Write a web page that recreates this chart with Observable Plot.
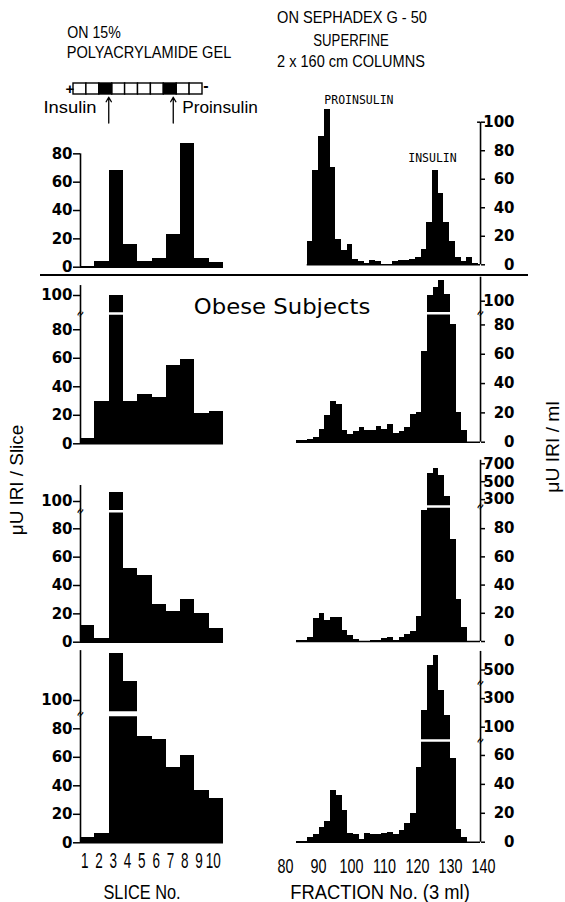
<!DOCTYPE html>
<html><head><meta charset="utf-8">
<script src="https://cdn.jsdelivr.net/npm/d3@7"></script>
<script src="https://cdn.jsdelivr.net/npm/@observablehq/plot@0.6"></script>
<style>
body{margin:0;background:#fff;}
#root{position:relative;width:565px;height:902px;overflow:hidden;background:#fff;}
.t{position:absolute;white-space:nowrap;color:#000;line-height:1;}
</style></head><body><div id="root"></div>
<script>
// ---------------- DATA ----------------
const sliceLabels = [1, 2, 3, 4, 5, 6, 7, 8, 9, 10];
const gelBands = [3, 8];
const gelMarkerNames = ["Insulin", "Proinsulin"];
const gelMarkerSlices = [3, 8];

// μU IRI / slice (polyacrylamide gel), rows top to bottom
const leftRow1 = [0.5, 4, 68, 16, 4, 6, 23, 87.5, 6, 3];
const leftRow2 = [3.5, 30, 100, 30, 34.5, 32.5, 55, 59, 21, 23];
const leftRow3 = [12, 2.5, 108, 52, 47, 26.5, 22, 30, 20, 10];
const leftRow4 = [4, 6.5, 133, 113, 74.5, 72.5, 52.5, 61, 36.5, 31];

// μU IRI / ml (Sephadex G-50 fractions), rows top to bottom
const rightRow1 = [16, 66, 90, 109, 68, 18, 10, 14, 4, 2, 1, 3, 2, 0.5, 0.5, 2, 3, 3, 4, 5, 11, 30, 66, 50, 30, 16, 5, 2, 5, 1];
const rightRow2 = [1, 1, 2, 3, 9, 18, 28, 26, 8, 5, 7, 10, 8, 8, 11, 9, 12, 6, 7, 10, 19, 20, 62, 106, 114, 121, 107, 80, 20, 8];
const rightRow3 = [0.5, 0.5, 2.5, 16, 20, 15, 17, 17, 8, 4, 1.5, 0.3, 0, 0.5, 1, 2, 3, 1, 3, 5, 7, 18, 93, 590, 645, 570, 336, 72, 30, 10];
const rightRow4 = [0.3, 0.5, 3, 5, 10, 14, 36, 32, 22, 6, 5, 2, 6, 5, 5, 6, 7, 5, 8, 13, 20, 52, 217, 530, 600, 357, 182, 58, 9, 3];
const rightStart = [86.58, 83.33, 83.33, 83.33]; // first fraction of each series
const binWidth = 1.727;                           // fractions per bar
const peakLabels = ["PROINSULIN", "INSULIN"];
const peakLabelBins = [3, 22];

const fractionTicks = [80, 90, 100, 110, 120, 130, 140];
const leftTicks = [[0, 20, 40, 60, 80], [0, 20, 40, 60, 80, 100], [0, 20, 40, 60, 80, 100], [0, 20, 40, 60, 80, 100]];
const rightTicks = [[0, 20, 40, 60, 80, 100], [0, 20, 40, 60, 80, 100], [0, 20, 40, 60, 80, 300, 500, 700], [0, 20, 40, 60, 100, 300, 500]];

// ---------------- LAYOUT ----------------
const W = 565, H = 902;
const root = document.getElementById("root");
const SANS = "'Liberation Sans', Arial, sans-serif";
const TICK = {fontFamily: "'DejaVu Sans', sans-serif", fontWeight: "bold", fontSize: 15};

const leftLayout = [
  {yDomain: [0, 100], yRange: [266.7, 125], axisTop: 80, brk: null},
  {yDomain: [0, 90, 100, 110], yRange: [443.3, 315, 295, 280.8], axisTop: 107, brk: 91, gap: 2.5},
  {yDomain: [0, 92, 100, 115], yRange: [641.7, 511.3, 501, 485], axisTop: 115, brk: 92.5, gap: 2.5},
  {yDomain: [0, 92, 100, 140], yRange: [842.3, 711.2, 700, 643], axisTop: 135, brk: 90.5, gap: 5}
];
const leftX = [80, 223];
const rightLayout = [
  {yDomain: [0, 100], yRange: [264.3, 121.7], axisTop: 100, brk: null, marks: []},
  {yDomain: [0, 88, 100, 124], yRange: [441.7, 312.7, 300.7, 276.7], axisTop: 124, brk: 88, gap: 2.5, marks: [88]},
  {yDomain: [0, 95, 240, 700, 760], yRange: [641, 507, 504.5, 463.3, 458], axisTop: 740, brk: 160, gap: 2.5, marks: [160]},
  {yDomain: [0, 70, 100, 600, 640], yRange: [841.7, 740.5, 726.7, 655.2, 649.5], axisTop: 630, brk: 71, gap: 2.5, marks: [71, 410]}
];
const rightX = [285, 483];
const AXIS_F = 139.1;

function mount(svg) {
  Object.assign(svg.style, {position: "absolute", left: "0px", top: "0px", background: "transparent", overflow: "visible", maxWidth: "none"});
  root.appendChild(svg);
  return svg;
}
// horizontally condense x tick labels (condensed typeface of the original)
function condense(svg, k) {
  svg.querySelectorAll('g[aria-label="x-axis tick label"] text').forEach(t => {
    const x = parseFloat(t.getAttribute("x") || "0");
    const tr = t.getAttribute("transform") || "";
    t.setAttribute("transform", (tr + ` scale(${k},1)`).trim());
    if (x) t.setAttribute("x", x / k);
  });
}

function leftPanel(values, lay, ticks, isBottom) {
  const data = sliceLabels.map((s, i) => ({s, v: values[i]}));
  const marks = [
    Plot.rectY(data, {x1: d => d.s - 1, x2: d => d.s, y: "v", fill: "black", shapeRendering: "crispEdges"}),
    Plot.ruleY([0], {x1: 0, x2: 10, stroke: "black", strokeWidth: 1.5})
  ];
  if (lay.brk != null) marks.push(Plot.ruleY([lay.brk], {x1: 0, x2: 10, stroke: "white", strokeWidth: lay.gap}));
  marks.push(Plot.ruleX([0], {y1: 0, y2: lay.axisTop, stroke: "black", strokeWidth: 1.6}));
  if (lay.brk != null) marks.push(Plot.text([lay.brk], {x: 0, y: d => d, text: () => "≈", rotate: -60, fontSize: 11, fontWeight: "bold"}));
  marks.push(Plot.axisY(ticks, {anchor: "left", label: null, tickSize: 7, tickPadding: 1, strokeWidth: 1.5, tickFormat: d => String(d), ...TICK}));
  if (isBottom) marks.push(Plot.axisX(sliceLabels.map(s => s - 0.5), {anchor: "bottom", label: null, tickSize: 0, tickPadding: 9, dx: -3, tickFormat: d => String(d + 0.5), fontFamily: SANS, fontSize: 22.5}));
  return Plot.plot({
    width: W, height: H,
    marginLeft: leftX[0], marginRight: W - leftX[1],
    marginTop: lay.yRange[lay.yRange.length - 1], marginBottom: H - lay.yRange[0],
    x: {type: "linear", domain: [0, 10], range: leftX, axis: null},
    y: {type: "linear", domain: lay.yDomain, range: lay.yRange, axis: null},
    marks
  });
}

function rightPanel(values, start, lay, ticks, isBottom, withLabels) {
  const data = values.map((v, i) => ({x1: start + i * binWidth, x2: start + (i + 1) * binWidth, v}));
  const marks = [
    Plot.rectY(data, {x1: "x1", x2: "x2", y: "v", fill: "black", shapeRendering: "crispEdges"}),
    Plot.ruleY([0], {x1: start, x2: AXIS_F, stroke: "black", strokeWidth: 1.5})
  ];
  if (lay.brk != null) marks.push(Plot.ruleY([lay.brk], {x1: start, x2: AXIS_F, stroke: "white", strokeWidth: lay.gap}));
  marks.push(Plot.ruleX([AXIS_F], {y1: 0, y2: lay.axisTop, stroke: "black", strokeWidth: 1.6}));
  if (lay.brk == null) marks.push(Plot.ruleY([lay.axisTop], {x1: AXIS_F - 0.9, x2: AXIS_F, stroke: "black", strokeWidth: 1.5}));
  marks.push(Plot.text(lay.marks, {x: AXIS_F, y: d => d, text: () => "≈", rotate: -60, fontSize: 11, fontWeight: "bold"}));
  marks.push(Plot.axisY(ticks, {anchor: "right", label: null, tickSize: 4, tickPadding: 30, textAnchor: "end", strokeWidth: 1.5, tickFormat: d => String(d), ...TICK}));
  if (withLabels) {
    marks.push(Plot.text([peakLabelBins[0]], {x: b => start + b * binWidth, y: b => values[b], text: () => peakLabels[0], textAnchor: "start", dy: -9, fontFamily: "'DejaVu Sans Mono', monospace", fontSize: 11.5}));
    marks.push(Plot.text([peakLabelBins[1]], {x: b => start + (b + 0.5) * binWidth, y: b => values[b], text: () => peakLabels[1], textAnchor: "middle", dx: -3, dy: -12, fontFamily: "'DejaVu Sans Mono', monospace", fontSize: 11.5}));
  }
  if (isBottom) marks.push(Plot.axisX(fractionTicks, {anchor: "bottom", label: null, tickSize: 0, tickPadding: 16, tickFormat: d => String(d), fontFamily: SANS, fontSize: 20.5}));
  const xs = d3.scaleLinear().domain([80, 140]).range(rightX);
  return Plot.plot({
    width: W, height: H,
    marginLeft: xs(start), marginRight: W - xs(AXIS_F),
    marginTop: lay.yRange[lay.yRange.length - 1], marginBottom: H - lay.yRange[0],
    x: {type: "linear", domain: [80, 140], range: rightX, axis: null},
    y: {type: "linear", domain: lay.yDomain, range: lay.yRange, axis: null},
    marks
  });
}

// gel diagram
const gel = Plot.plot({
  width: W, height: H, marginLeft: 73, marginRight: W - 202, marginTop: 83, marginBottom: H - 94,
  x: {domain: [0, 10], axis: null}, y: {domain: [0, 1], axis: null},
  marks: [
    Plot.rect(sliceLabels.filter(s => !gelBands.includes(s)), {x1: s => s - 1, x2: s => s, y1: 0, y2: 1, fill: "white", stroke: "black", strokeWidth: 1.4}),
    Plot.rect(gelBands, {x1: s => s - 1, x2: s => s, y1: 0, y2: 1, fill: "black", stroke: "black", strokeWidth: 1.4}),
    Plot.text(["+"], {frameAnchor: "left", dx: -8, fontSize: 15, fontWeight: "bold", fontFamily: SANS}),
    Plot.text(["-"], {frameAnchor: "right", dx: 6, dy: -3, fontSize: 16, fontWeight: "bold", fontFamily: SANS}),
    Plot.arrow(gelMarkerSlices, {x1: s => s - 0.5, x2: s => s - 0.5, y1: -2.6, y2: -0.25, dx: 3, stroke: "black", strokeWidth: 1.3, headLength: 6})
  ]
});
mount(gel);

const lefts = [leftRow1, leftRow2, leftRow3, leftRow4];
const rights = [rightRow1, rightRow2, rightRow3, rightRow4];
lefts.forEach((v, i) => { const s = mount(leftPanel(v, leftLayout[i], leftTicks[i], i === 3)); if (i === 3) condense(s, 0.6); });
rights.forEach((v, i) => { const s = mount(rightPanel(v, rightStart[i], rightLayout[i], rightTicks[i], i === 3, i === 0)); if (i === 3) condense(s, 0.7); });

// ---------------- TEXT ----------------
function txt(str, o) {
  const el = document.createElement("div");
  el.className = "t";
  el.textContent = str;
  el.style.fontFamily = o.font || SANS;
  el.style.fontSize = o.fs + "px";
  if (o.weight) el.style.fontWeight = o.weight;
  root.appendChild(el);
  const w = el.offsetWidth;
  const k = o.width ? o.width / w : 1;
  el.style.left = o.cx + "px";
  el.style.top = o.cy + "px";
  el.style.transform = `translate(-50%,-50%) rotate(${o.rot || 0}deg) scaleX(${k})`;
  return el;
}
const sep = document.createElement("div");
Object.assign(sep.style, {position: "absolute", left: "40px", top: "274px", width: "488px", height: "2px", background: "#000"});
root.appendChild(sep);

txt("ON 15%", {cx: 93.5, cy: 33, fs: 16, width: 53});
txt("POLYACRYLAMIDE GEL", {cx: 149, cy: 53, fs: 16, width: 165});
txt("ON SEPHADEX G - 50", {cx: 351.7, cy: 17, fs: 17, width: 150});
txt("SUPERFINE", {cx: 350.8, cy: 39.5, fs: 16.5, width: 75});
txt("2 x 160 cm COLUMNS", {cx: 350.8, cy: 61, fs: 16.5, width: 148});
txt(gelMarkerNames[0], {cx: 70, cy: 107, fs: 17, width: 53});
txt(gelMarkerNames[1], {cx: 220, cy: 107, fs: 17, width: 76});
txt("Obese Subjects", {cx: 281.5, cy: 307, fs: 22, width: 177, font: "'DejaVu Sans', sans-serif"});
txt("SLICE No.", {cx: 141.5, cy: 891, fs: 21, width: 77});
txt("FRACTION No. (3 ml)", {cx: 380, cy: 892, fs: 20, width: 180});
txt("μU IRI / Slice", {cx: 17, cy: 480, fs: 18, width: 110, rot: -90});
txt("μU IRI / ml", {cx: 553, cy: 447, fs: 18, width: 91, rot: -90});
</script>
</body></html>
